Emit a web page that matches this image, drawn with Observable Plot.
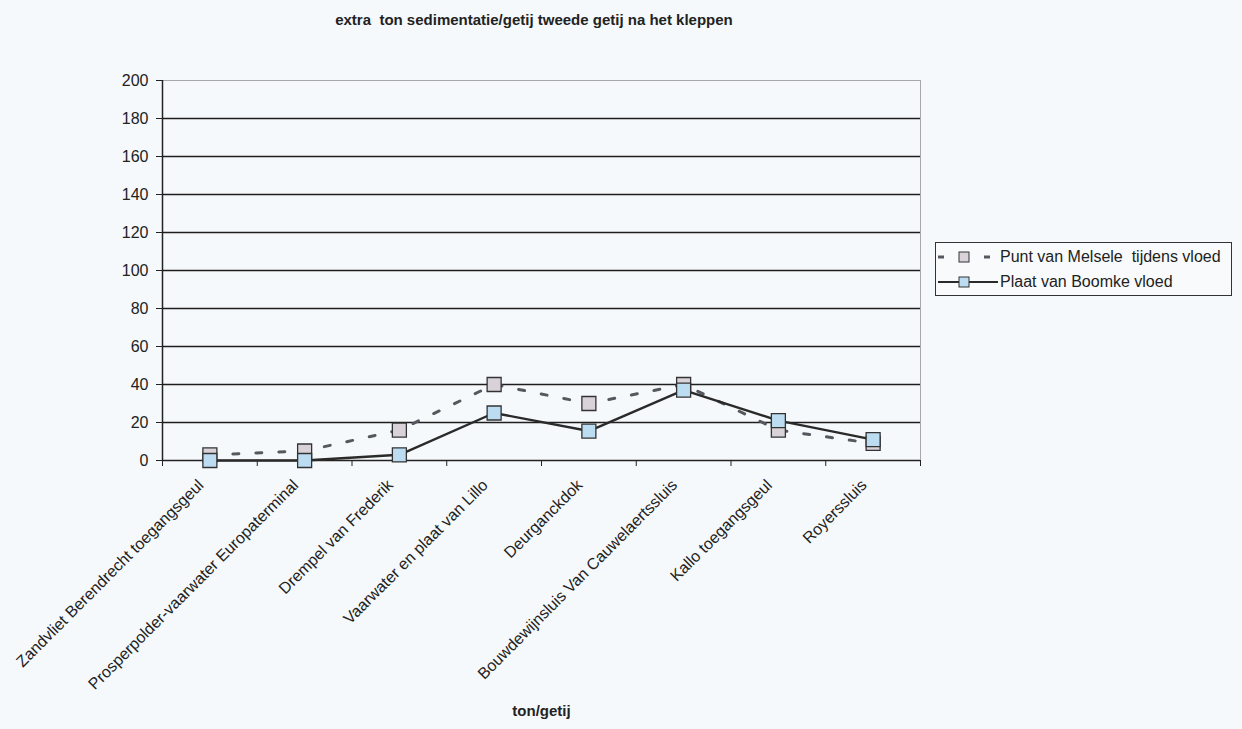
<!DOCTYPE html>
<html>
<head>
<meta charset="utf-8">
<script src="https://cdn.jsdelivr.net/npm/d3@7"></script>
<script src="https://cdn.jsdelivr.net/npm/@observablehq/plot@0.6"></script>
<style>
  body { margin: 0; background: #f6f9fb; font-family: "Liberation Sans", Arial, sans-serif; }
  #wrap { position: relative; width: 1242px; height: 729px; }
  #title { height: 40px; line-height: 40px; width: 1068px; text-align: center; font-weight: bold; font-size: 15px; color: #222; }
  #legend { position: absolute; left: 935px; top: 242px; width: 297px; height: 54px; border: 1px solid #333; box-sizing: border-box; font-size: 16px; color: #222; background: #f8fafb; }
  .row { position: absolute; left: 0; height: 22px; display: flex; align-items: center; }
  .row svg { display: block; }
  .row span { margin-left: 2px; white-space: nowrap; }
</style>
</head>
<body>
<div id="wrap">
  <div id="title">extra&nbsp; ton sedimentatie/getij tweede getij na het kleppen</div>
  <div id="chart"></div>
  <div id="legend"></div>
</div>
<script>
// Locations along the river (x categories)
const categories = [
  "Zandvliet Berendrecht toegangsgeul",
  "Prosperpolder-vaarwater Europaterminal",
  "Drempel van Frederik",
  "Vaarwater en plaat van Lillo",
  "Deurganckdok",
  "Bouwdewijnsluis Van Cauwelaertssluis",
  "Kallo toegangsgeul",
  "Royerssluis"
];

// Extra tons of sedimentation per tide, second tide after dumping
const seriesNames = ["Punt van Melsele  tijdens vloed", "Plaat van Boomke vloed"];
const melsele = [3, 5, 16, 40, 30, 40, 16, 9];
const boomke  = [0, 0, 3, 25, 15.5, 37, 21, 11];

// Y axis tick values
const yTicks = [0, 20, 40, 60, 80, 100, 120, 140, 160, 180, 200];

const idx = d3.range(categories.length);
const boundaries = d3.range(categories.length + 1).map(i => i - 0.5);

const chart = Plot.plot({
  width: 1242,
  height: 689,
  marginTop: 40,
  marginBottom: 269,
  marginLeft: 162,
  marginRight: 322,
  style: { background: "transparent", fontFamily: "'Liberation Sans', Arial, sans-serif", fontSize: "16px", color: "#222" },
  x: { domain: [-0.5, categories.length - 0.5] },
  y: { domain: [0, 200] },
  marks: [
    // horizontal gridlines
    Plot.ruleY(yTicks.filter(v => v > 0 && v < 200), { stroke: "#1e1e1e", strokeWidth: 1.3 }),
    // light top and right edges of the plot area
    Plot.ruleY([200], { stroke: "#a8a8a8", strokeWidth: 1 }),
    Plot.ruleX([categories.length - 0.5], { stroke: "#a8a8a8", strokeWidth: 1 }),
    // y axis
    Plot.axisY({ ticks: yTicks, tickSize: 6, tickPadding: 8, fontSize: 16, label: null, stroke: "#222" }),
    Plot.ruleX([-0.5], { stroke: "#222", strokeWidth: 1.5 }),
    Plot.ruleY([0], { stroke: "#222", strokeWidth: 1.5 }),
    // category boundary ticks
    Plot.axisX({ ticks: boundaries, tickSize: 6, tickFormat: () => "", label: null, stroke: "#222" }),
    // rotated category labels
    Plot.axisX({ ticks: idx, tickSize: 0, tickPadding: 22, dx: -9, tickRotate: -45, tickFormat: i => categories[i], fontSize: 16, label: null }),
    // Punt van Melsele (dashed)
    Plot.line(idx, { x: i => i, y: i => melsele[i], stroke: "#55585f", strokeWidth: 3, strokeDasharray: "6,17" }),
    Plot.dot(idx, { x: i => i, y: i => melsele[i], symbol: "square", r: 7.9, fill: "#d9d3d9", stroke: "#333", strokeWidth: 1.3 }),
    // Plaat van Boomke (solid)
    Plot.line(idx, { x: i => i, y: i => boomke[i], stroke: "#2a2a2a", strokeWidth: 2.4 }),
    Plot.dot(idx, { x: i => i, y: i => boomke[i], symbol: "square", r: 7.9, fill: "#bcdcf2", stroke: "#333", strokeWidth: 1.3 }),
    // axis title
    Plot.text(["ton/getij"], { text: d => d, frameAnchor: "bottom", dy: 255, fontWeight: "bold", fontSize: 15, fill: "#222" })
  ]
});
document.getElementById("chart").appendChild(chart);

// legend
const legend = document.getElementById("legend");
const swatches = [
  `<svg width="62" height="22"><line x1="2" y1="11" x2="58" y2="11" stroke="#55585f" stroke-width="3" stroke-dasharray="6,17"/><rect x="23" y="6" width="10" height="10" fill="#d9d3d9" stroke="#333"/></svg>`,
  `<svg width="62" height="22"><line x1="2" y1="11" x2="62" y2="11" stroke="#2a2a2a" stroke-width="2"/><rect x="23" y="6" width="10" height="10" fill="#bcdcf2" stroke="#333"/></svg>`
];
seriesNames.forEach((name, k) => {
  const row = document.createElement("div");
  row.className = "row";
  row.style.top = (3 + k * 25) + "px";
  row.innerHTML = swatches[k] + `<span>${name.replace(/  /g, " &nbsp;")}</span>`;
  legend.appendChild(row);
});
</script>
</body>
</html>
